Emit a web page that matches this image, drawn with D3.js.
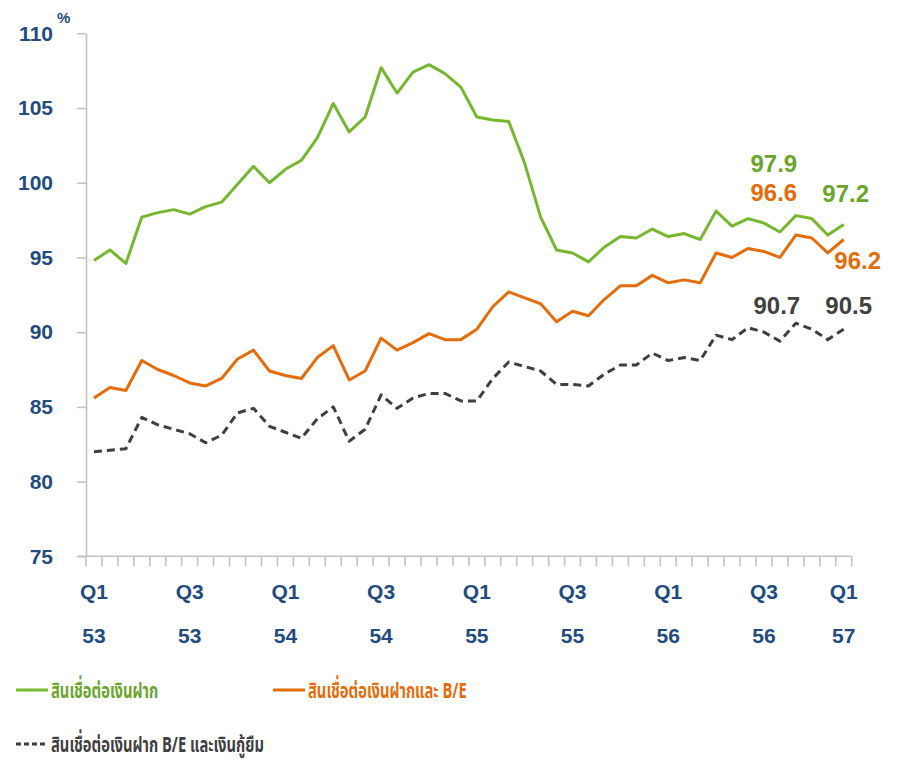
<!DOCTYPE html>
<html>
<head>
<meta charset="utf-8">
<script src="https://cdn.jsdelivr.net/npm/d3@7"></script>
<style>
  body { margin: 0; background: #fff; }
  #chart { width: 898px; height: 762px; }
  text { font-family: "Liberation Sans", Arial, sans-serif; }
</style>
</head>
<body>
<div id="chart"></div>
<script>
// monthly points, Q1/53 .. Q1/57
const months = d3.range(48);

const loanToDeposit = [94.8, 95.5, 94.6, 97.7, 98.0, 98.2, 97.9, 98.4, 98.7, 99.9,
    101.1, 100.0, 100.9, 101.5, 103.0, 105.3, 103.4, 104.4, 107.7, 106.0,
    107.4, 107.9, 107.3, 106.4, 104.4, 104.2, 104.1, 101.3, 97.7, 95.5,
    95.3, 94.7, 95.7, 96.4, 96.3, 96.9, 96.4, 96.6, 96.2, 98.1,
    97.1, 97.6, 97.3, 96.7, 97.8, 97.6, 96.5, 97.2];

const loanToDepositBE = [85.6, 86.3, 86.1, 88.1, 87.5, 87.1, 86.6, 86.4, 86.9, 88.2,
    88.8, 87.4, 87.1, 86.9, 88.3, 89.1, 86.8, 87.4, 89.6, 88.8,
    89.3, 89.9, 89.5, 89.5, 90.2, 91.7, 92.7, 92.3, 91.9, 90.7,
    91.4, 91.1, 92.2, 93.1, 93.1, 93.8, 93.3, 93.5, 93.3, 95.3,
    95.0, 95.6, 95.4, 95.0, 96.5, 96.3, 95.3, 96.2];

const loanToDepositBEBorrow = [82.0, 82.1, 82.2, 84.3, 83.8, 83.5, 83.2, 82.6, 83.1, 84.6,
    84.9, 83.7, 83.3, 82.9, 84.2, 85.0, 82.7, 83.5, 85.8, 84.9,
    85.6, 85.9, 85.9, 85.4, 85.4, 86.9, 88.0, 87.7, 87.4, 86.5,
    86.5, 86.4, 87.2, 87.8, 87.8, 88.6, 88.1, 88.3, 88.1, 89.8,
    89.5, 90.3, 90.0, 89.4, 90.6, 90.2, 89.5, 90.2];

const seriesNames = ["สินเชื่อต่อเงินฝาก", "สินเชื่อต่อเงินฝากและ B/E", "สินเชื่อต่อเงินฝาก B/E และเงินกู้ยืม"];

const tickIndex = [0, 6, 12, 18, 24, 30, 36, 42, 47];
const tickQuarter = ["Q1", "Q3", "Q1", "Q3", "Q1", "Q3", "Q1", "Q3", "Q1"];
const tickYear = ["53", "53", "54", "54", "55", "55", "56", "56", "57"];

const yTicks = [75, 80, 85, 90, 95, 100, 105, 110];

// end-point labels: series index, point index, text
const noteSeries = [0, 0, 1, 1, 2, 2];
const noteIndex = [44, 47, 44, 47, 44, 47];
const noteText = ["97.9", "97.2", "96.6", "96.2", "90.7", "90.5"];

const width = 898, height = 762;
const axisBlue = "#234b7e";
const colors = ["#77b72f", "#e46c0a", "#3f3f3f"];
const labelColors = ["#6aa52d", "#e46c0a", "#404040"];

const svg = d3.select("#chart").append("svg")
    .attr("width", width)
    .attr("height", height);

const x = d3.scaleBand().domain(months).range([86, 851.7]).paddingInner(0).paddingOuter(0);
const y = d3.scaleLinear().domain([75, 110]).range([556.3, 33.3]);
const xc = i => x(i) + x.bandwidth() / 2;

// y axis
const yAxis = svg.append("g")
    .attr("transform", "translate(86,0)")
    .call(d3.axisLeft(y).tickValues(yTicks).tickSize(9).tickPadding(24).tickSizeOuter(0));
yAxis.select(".domain").attr("stroke", "#c3c3c3").attr("stroke-width", 1.6);
yAxis.selectAll(".tick line").attr("stroke", "#c3c3c3").attr("stroke-width", 1.6);
yAxis.selectAll(".tick text")
    .attr("fill", axisBlue)
    .style("font-size", "21px")
    .style("font-weight", "bold");

svg.append("text")
    .attr("x", 57).attr("y", 23)
    .attr("fill", axisBlue)
    .style("font-size", "15px")
    .style("font-weight", "bold")
    .text("%");

// x axis
const xAxisG = svg.append("g").attr("transform", `translate(0,${y(75)})`);
xAxisG.append("line")
    .attr("x1", 77).attr("x2", x.range()[1])
    .attr("stroke", "#c3c3c3").attr("stroke-width", 1.6);
xAxisG.selectAll(".minor")
    .data(d3.range(months.length + 1))
    .enter().append("line")
    .attr("x1", i => 86 + i * x.step())
    .attr("x2", i => 86 + i * x.step())
    .attr("y1", 0).attr("y2", 10)
    .attr("stroke", "#c3c3c3").attr("stroke-width", 1.6);

xAxisG.selectAll(".q")
    .data(tickIndex)
    .enter().append("text")
    .attr("x", i => xc(i))
    .attr("y", 43)
    .attr("text-anchor", "middle")
    .attr("fill", axisBlue)
    .style("font-size", "21px")
    .style("font-weight", "bold")
    .text((d, k) => tickQuarter[k]);

xAxisG.selectAll(".yr")
    .data(tickIndex)
    .enter().append("text")
    .attr("x", i => xc(i))
    .attr("y", 87)
    .attr("text-anchor", "middle")
    .attr("fill", axisBlue)
    .style("font-size", "21px")
    .style("font-weight", "bold")
    .text((d, k) => tickYear[k]);

// lines
const allSeries = [loanToDeposit, loanToDepositBE, loanToDepositBEBorrow];
const line = d3.line().x((d, i) => xc(i)).y(d => y(d));

allSeries.forEach((s, k) => {
    svg.append("path")
        .datum(s)
        .attr("d", line)
        .attr("fill", "none")
        .attr("stroke", colors[k])
        .attr("stroke-width", 3)
        .attr("stroke-linejoin", "round")
        .attr("stroke-dasharray", k === 2 ? "8,5" : null);
});

// value labels
const noteOffset = [[-22, -52], [2, -31], [-22, -42], [14, 21], [-19, -18], [5, -24]];
noteText.forEach((t, k) => {
    const s = allSeries[noteSeries[k]];
    const i = noteIndex[k];
    svg.append("text")
        .attr("x", xc(i) + noteOffset[k][0])
        .attr("y", y(s[i]) + noteOffset[k][1])
        .attr("dy", "0.35em")
        .attr("text-anchor", "middle")
        .attr("fill", labelColors[noteSeries[k]])
        .style("font-size", "24px")
        .style("font-weight", "bold")
        .text(t);
});

// legend (condensed Thai text)
const legendPos = [[16, 690], [273, 690], [16, 744]];
seriesNames.forEach((name, k) => {
    const g = svg.append("g").attr("transform", `translate(${legendPos[k][0]},${legendPos[k][1]})`);
    g.append("line")
        .attr("x1", 0).attr("x2", 32)
        .attr("stroke", colors[k])
        .attr("stroke-width", 3)
        .attr("stroke-dasharray", k === 2 ? "5,3" : null);
    g.append("text")
        .attr("transform", "translate(35,0) scale(0.67,1)")
        .attr("dy", "0.35em")
        .attr("fill", labelColors[k])
        .style("font-family", "'Noto Sans Thai', 'Leelawadee UI', Tahoma, sans-serif")
        .style("font-size", "22px")
        .style("font-weight", "bold")
        .text(name);
});
</script>
</body>
</html>
